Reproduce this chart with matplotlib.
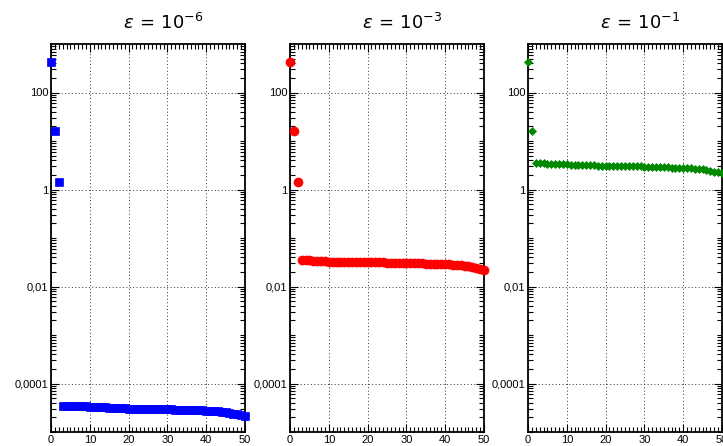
import numpy as np
import matplotlib
matplotlib.use("Agg")
import matplotlib.pyplot as plt
from matplotlib.ticker import FixedLocator, MultipleLocator, NullFormatter

plt.rcParams['font.family'] = ['Liberation Sans', 'DejaVu Sans']

# eigenvalue index and magnitudes
titles = [r'$\varepsilon\,=\,10^{-6}$', r'$\varepsilon\,=\,10^{-3}$', r'$\varepsilon\,=\,10^{-1}$']
colors = ['#0000ff', '#ff0000', '#008800']
markers = ['s', 'o', 'D']
msizes = [6, 6.5, 4.5]

head_1 = [417, 15.7, 1.46]
tail_1 = [3.50e-5, 3.47e-5, 3.45e-5, 3.43e-5, 3.41e-5, 3.39e-5, 3.37e-5, 3.35e-5,
          3.32e-5, 3.29e-5, 3.26e-5, 3.23e-5, 3.20e-5, 3.17e-5, 3.14e-5, 3.11e-5,
          3.08e-5, 3.05e-5, 3.04e-5, 3.03e-5, 3.02e-5, 3.01e-5, 3.00e-5, 2.99e-5,
          2.98e-5, 2.97e-5, 2.96e-5, 2.95e-5, 2.93e-5, 2.91e-5, 2.89e-5, 2.87e-5,
          2.86e-5, 2.84e-5, 2.82e-5, 2.80e-5, 2.79e-5, 2.77e-5, 2.74e-5, 2.70e-5,
          2.66e-5, 2.63e-5, 2.60e-5, 2.50e-5, 2.40e-5, 2.31e-5, 2.23e-5, 2.16e-5]

head_2 = [417, 15.7, 1.46]
tail_2 = [0.0356, 0.0350, 0.0345, 0.0340, 0.0336, 0.0332, 0.0329, 0.0327,
          0.0326, 0.0325, 0.0324, 0.0323, 0.0322, 0.0321, 0.0320, 0.0319,
          0.0318, 0.0317, 0.0316, 0.0315, 0.0314, 0.0313, 0.0312, 0.0311,
          0.0310, 0.0309, 0.0308, 0.0308, 0.0306, 0.0304, 0.0302, 0.0300,
          0.0298, 0.0296, 0.0294, 0.0292, 0.0290, 0.0288, 0.0285, 0.0281,
          0.0278, 0.0274, 0.0271, 0.0262, 0.0252, 0.0242, 0.0233, 0.0224]

head_3 = [417, 15.7]
tail_3 = [3.60, 3.52, 3.46, 3.41, 3.37, 3.34, 3.32, 3.30, 3.28, 3.26,
          3.24, 3.22, 3.20, 3.18, 3.16, 3.14, 3.12, 3.10, 3.08, 3.07,
          3.06, 3.05, 3.04, 3.03, 3.02, 3.01, 3.00, 2.99, 2.98, 2.96,
          2.94, 2.92, 2.90, 2.88, 2.86, 2.84, 2.83, 2.81, 2.80, 2.77,
          2.74, 2.70, 2.66, 2.62, 2.53, 2.44, 2.35, 2.26, 2.17]

series = [head_1 + tail_1, head_2 + tail_2, head_3 + tail_3]

ytick_vals = [1e-4, 1e-2, 1, 1e2]
ytick_labels = ['0,0001', '0,01', '1', '100']
xtick_vals = [0, 10, 20, 30, 40, 50]

fig = plt.figure(figsize=(7.23, 4.46), dpi=100)
lefts = [51, 290, 528]

for k in range(3):
    ax = fig.add_axes([lefts[k] / 723, 1 - 432 / 446, 194 / 723, 388 / 446])
    y = np.array(series[k])
    x = np.arange(len(y))
    ax.plot(x, y, linestyle='none', marker=markers[k], color=colors[k],
            markersize=msizes[k], markeredgewidth=0.5, clip_on=False, zorder=3)
    ax.set_yscale('log')
    ax.set_xlim(0, 50)
    ax.set_ylim(1e-5, 1e3)

    ax.yaxis.set_major_locator(FixedLocator(ytick_vals))
    ax.set_yticklabels(ytick_labels)
    minor = [m * 10.0 ** e for e in range(-5, 3) for m in range(1, 10)]
    ax.yaxis.set_minor_locator(FixedLocator(minor))
    ax.yaxis.set_minor_formatter(NullFormatter())
    ax.xaxis.set_major_locator(FixedLocator(xtick_vals))
    ax.xaxis.set_minor_locator(MultipleLocator(1))

    ax.tick_params(which='both', direction='in', top=True, right=True,
                   labelsize=8, pad=2, width=0.8)
    ax.tick_params(which='major', length=6)
    ax.tick_params(which='minor', length=3.5)
    ax.grid(True, which='major', linestyle=(0, (1, 2.5)), color='#333333', linewidth=0.7)
    for s in ax.spines.values():
        s.set_linewidth(1.3)
    ax.set_title(titles[k], fontsize=13, pad=11, x=0.5 + 15 / 194)

fig.savefig('out.png', dpi=100)
